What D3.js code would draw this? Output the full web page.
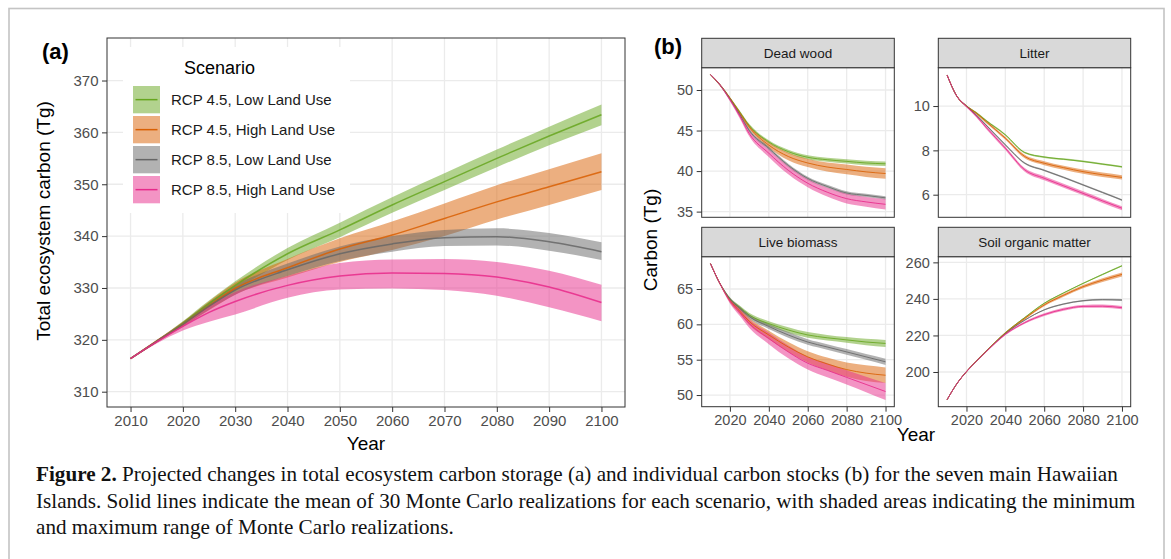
<!DOCTYPE html>
<html><head><meta charset="utf-8">
<script src="https://cdn.jsdelivr.net/npm/d3@7"></script>
<style>
body{margin:0;background:#fff}
svg{display:block}
text{font-family:"Liberation Sans",Arial,sans-serif}
</style>
</head><body>
<svg id="c" width="1171" height="559"></svg>
<script>
// ---------------- DATA ----------------
const years = [2010, 2015, 2020, 2025, 2030, 2040, 2050, 2060, 2070, 2080, 2090, 2100];
const scenarios = ["RCP 4.5, Low Land Use", "RCP 4.5, High Land Use", "RCP 8.5, Low Land Use", "RCP 8.5, High Land Use"];
const colors = ["#66A61E", "#D95F02", "#666666", "#E7298A"];

// Panel (a): total ecosystem carbon (Tg): mean, min, max
const total45Low      = [316.4, 319.7, 323.2, 327.0, 330.5, 336.6, 341.2, 346.0, 350.5, 355.0, 359.3, 363.4];
const total45LowMin   = [316.3, 319.5, 322.8, 326.3, 329.6, 335.4, 339.8, 344.5, 348.9, 353.3, 357.5, 361.4];
const total45LowMax   = [316.5, 319.9, 323.6, 327.6, 331.3, 337.7, 342.6, 347.5, 352.1, 356.7, 361.1, 365.4];
const total45High     = [316.4, 319.7, 323.0, 326.6, 329.9, 333.9, 337.5, 340.2, 343.4, 346.6, 349.5, 352.4];
const total45HighMin  = [316.3, 319.5, 322.5, 325.7, 328.7, 332.0, 335.0, 337.3, 340.0, 343.2, 346.0, 348.9];
const total45HighMax  = [316.5, 320.0, 323.5, 327.4, 331.0, 335.6, 339.6, 342.8, 346.3, 349.8, 352.9, 356.0];
const total85Low      = [316.4, 319.7, 323.0, 326.5, 329.6, 333.5, 336.6, 338.5, 339.7, 339.9, 338.9, 337.0];
const total85LowMin   = [316.3, 319.5, 322.6, 325.8, 328.7, 332.3, 335.2, 337.0, 338.1, 338.2, 337.2, 335.4];
const total85LowMax   = [316.5, 319.9, 323.4, 327.2, 330.5, 334.7, 338.0, 340.0, 341.2, 341.5, 340.6, 338.8];
const total85High     = [316.4, 319.6, 322.6, 325.3, 327.4, 330.5, 332.3, 332.9, 332.8, 332.1, 330.2, 327.2];
const total85HighMin  = [316.3, 319.3, 321.8, 323.5, 324.9, 328.1, 329.7, 329.9, 329.6, 328.5, 326.3, 323.6];
const total85HighMax  = [316.5, 319.9, 323.3, 326.6, 329.2, 332.3, 334.8, 335.5, 335.6, 335.0, 333.3, 330.6];

// Panel (b): individual stocks (Tg): mean and half-range of realizations
const deadWood45Low   = [51.9, 50.6, 49.0, 47.3, 45.6, 43.6, 42.4, 41.7, 41.4, 41.2, 41.0, 40.9];
const deadWood45High  = [51.9, 50.6, 49.0, 47.2, 45.4, 43.2, 41.8, 41.0, 40.5, 40.2, 39.9, 39.7];
const deadWood85Low   = [51.9, 50.6, 48.9, 47.0, 45.0, 42.8, 40.7, 39.1, 38.1, 37.3, 37.0, 36.7];
const deadWood85High  = [51.9, 50.6, 48.8, 46.8, 44.6, 42.2, 40.1, 38.5, 37.4, 36.6, 36.2, 35.9];
const deadWoodSpread45Low  = [0.05, 0.1, 0.15, 0.18, 0.2, 0.2, 0.22, 0.24, 0.25, 0.26, 0.27, 0.28];
const deadWoodSpread45High = [0.05, 0.1, 0.15, 0.2, 0.25, 0.35, 0.45, 0.5, 0.55, 0.6, 0.62, 0.65];
const deadWoodSpread85Low  = [0.05, 0.1, 0.15, 0.18, 0.2, 0.2, 0.2, 0.2, 0.2, 0.2, 0.2, 0.2];
const deadWoodSpread85High = [0.05, 0.1, 0.2, 0.28, 0.35, 0.45, 0.5, 0.5, 0.55, 0.6, 0.6, 0.65];

const litter45Low     = [11.4, 10.45, 10.0, 9.7, 9.35, 8.7, 7.9, 7.7, 7.6, 7.5, 7.38, 7.26];
const litter45High    = [11.4, 10.45, 10.0, 9.68, 9.3, 8.55, 7.72, 7.42, 7.22, 7.04, 6.9, 6.78];
const litter85Low     = [11.4, 10.45, 10.0, 9.6, 9.15, 8.25, 7.42, 7.1, 6.78, 6.44, 6.1, 5.76];
const litter85High    = [11.4, 10.45, 9.98, 9.55, 9.05, 8.1, 7.12, 6.74, 6.4, 6.06, 5.72, 5.39];
const litterSpread45Low  = [0.02, 0.03, 0.03, 0.04, 0.04, 0.04, 0.04, 0.04, 0.04, 0.04, 0.04, 0.04];
const litterSpread45High = [0.02, 0.03, 0.04, 0.05, 0.06, 0.07, 0.08, 0.09, 0.09, 0.1, 0.1, 0.1];
const litterSpread85Low  = [0.02, 0.03, 0.03, 0.04, 0.04, 0.04, 0.04, 0.04, 0.04, 0.04, 0.04, 0.04];
const litterSpread85High = [0.02, 0.03, 0.05, 0.06, 0.07, 0.08, 0.08, 0.09, 0.09, 0.09, 0.09, 0.09];

const live45Low       = [68.6, 65.7, 63.6, 62.4, 61.3, 60.1, 59.2, 58.5, 58.1, 57.8, 57.5, 57.3];
const live45High      = [68.6, 65.7, 63.4, 61.9, 60.4, 58.5, 56.8, 55.4, 54.4, 53.6, 53.1, 52.8];
const live85Low       = [68.6, 65.7, 63.6, 62.3, 61.1, 59.7, 58.5, 57.5, 56.8, 56.1, 55.4, 54.7];
const live85High      = [68.6, 65.7, 63.3, 61.7, 60.1, 58.0, 56.1, 54.5, 53.5, 52.5, 51.5, 50.5];
const liveSpread45Low  = [0.05, 0.1, 0.2, 0.25, 0.3, 0.35, 0.4, 0.4, 0.4, 0.4, 0.45, 0.5];
const liveSpread45High = [0.05, 0.15, 0.3, 0.4, 0.5, 0.6, 0.7, 0.8, 0.9, 1.0, 1.1, 1.1];
const liveSpread85Low  = [0.05, 0.1, 0.2, 0.25, 0.3, 0.35, 0.4, 0.4, 0.4, 0.4, 0.4, 0.45];
const liveSpread85High = [0.05, 0.15, 0.35, 0.5, 0.6, 0.8, 0.9, 0.9, 1.0, 1.0, 1.1, 1.2];

const soil45Low       = [184.8, 193.5, 200.2, 205.9, 211.2, 221.5, 229.8, 237.6, 243.3, 248.5, 253.4, 258.1];
const soil45High      = [184.8, 193.5, 200.2, 205.9, 211.2, 221.3, 229.3, 236.7, 242.0, 246.7, 250.3, 253.4];
const soil85Low       = [184.8, 193.5, 200.2, 205.8, 211.1, 221.0, 228.4, 234.0, 237.2, 239.0, 239.6, 239.4];
const soil85High      = [184.8, 193.5, 200.2, 205.8, 211.0, 220.6, 227.0, 231.4, 234.3, 235.9, 236.0, 235.2];
const soilSpread45Low  = [0.1, 0.1, 0.2, 0.2, 0.2, 0.2, 0.3, 0.3, 0.3, 0.3, 0.4, 0.4];
const soilSpread45High = [0.1, 0.2, 0.3, 0.35, 0.4, 0.5, 0.6, 0.7, 0.8, 0.9, 1.0, 1.1];
const soilSpread85Low  = [0.1, 0.2, 0.2, 0.25, 0.3, 0.3, 0.3, 0.4, 0.4, 0.4, 0.5, 0.5];
const soilSpread85High = [0.1, 0.2, 0.3, 0.35, 0.4, 0.5, 0.6, 0.7, 0.8, 0.8, 0.9, 0.9];

// Tick labels / axis limits
const xTicksA = [2010, 2020, 2030, 2040, 2050, 2060, 2070, 2080, 2090, 2100];
const yTicksA = [310, 320, 330, 340, 350, 360, 370];
const xTicksB = [2020, 2040, 2060, 2080, 2100];
const facetNames = ["Dead wood", "Litter", "Live biomass", "Soil organic matter"];
const yTicksDead = [35, 40, 45, 50];
const yTicksLitter = [6, 8, 10];
const yTicksLive = [50, 55, 60, 65];
const yTicksSoil = [200, 220, 240, 260];
const xLimits = [2005.5, 2104.5];
const yLimitsA = [307.05, 378.2];
const yLimitsDead = [34.3, 52.75];
const yLimitsLitter = [4.98, 11.73];
const yLimitsLive = [48.35, 69.57];
const yLimitsSoil = [181.0, 263.1];

const captionLines = [
  ["Figure 2.", " Projected changes in total ecosystem carbon storage (a) and individual carbon stocks (b) for the seven main Hawaiian"],
  ["", "Islands. Solid lines indicate the mean of 30 Monte Carlo realizations for each scenario, with shaded areas indicating the minimum"],
  ["", "and maximum range of Monte Carlo realizations."]
];

// ---------------- DRAW ----------------
const svg = d3.select("#c");
svg.append("rect").attr("width", 1171).attr("height", 559).attr("fill", "#fff");
svg.append("rect").attr("x", 9).attr("y", 8.5).attr("width", 1155).attr("height", 620)
  .attr("fill", "none").attr("stroke", "#c4c4c4").attr("stroke-width", 1.6);

const GRID = "#EBEBEB", DARK = "#333333", TICKTXT = "#4D4D4D";

function drawPanel(g, box, yDomain, xTicks, yTicks, showX, series, lineW, tickFont) {
  const x = d3.scaleLinear().domain(xLimits).range([box.x0, box.x1]);
  const y = d3.scaleLinear().domain(yDomain).range([box.y1, box.y0]);
  g.append("rect").attr("x", box.x0).attr("y", box.y0).attr("width", box.x1 - box.x0).attr("height", box.y1 - box.y0).attr("fill", "#fff");
  const grid = g.append("g");
  grid.selectAll(".gx").data(xTicks).join("line")
    .attr("x1", d => x(d)).attr("x2", d => x(d)).attr("y1", box.y0).attr("y2", box.y1)
    .attr("stroke", GRID).attr("stroke-width", 1.3);
  grid.selectAll(".gy").data(yTicks).join("line")
    .attr("y1", d => y(d)).attr("y2", d => y(d)).attr("x1", box.x0).attr("x2", box.x1)
    .attr("stroke", GRID).attr("stroke-width", 1.3);
  if (box.legendMask) {
    const m = box.legendMask;
    g.append("rect").attr("x", m.x).attr("y", m.y).attr("width", m.w).attr("height", m.h).attr("fill", "#fff");
  }
  const area = d3.area().x((d, i) => x(years[i])).y0(d => y(d[0])).y1(d => y(d[1])).curve(d3.curveMonotoneX);
  const line = d3.line().x((d, i) => x(years[i])).y(d => y(d)).curve(d3.curveMonotoneX);
  series.forEach((s, k) => {
    const band = s.lo.map((v, i) => [v, s.hi[i]]);
    g.append("path").attr("d", area(band)).attr("fill", colors[k]).attr("fill-opacity", 0.5);
  });
  series.forEach((s, k) => {
    g.append("path").attr("d", line(s.mean)).attr("fill", "none").attr("stroke", colors[k])
      .attr("stroke-width", lineW).attr("stroke-opacity", 0.85);
  });
  g.append("rect").attr("x", box.x0).attr("y", box.y0).attr("width", box.x1 - box.x0).attr("height", box.y1 - box.y0)
    .attr("fill", "none").attr("stroke", DARK).attr("stroke-width", 1);
  const ya = g.append("g").attr("transform", `translate(${box.x0},0)`)
    .call(d3.axisLeft(y).tickValues(yTicks).tickSize(5).tickPadding(3.5).tickFormat(d3.format("d")));
  ya.select(".domain").remove();
  ya.selectAll(".tick line").attr("stroke", DARK);
  ya.selectAll(".tick text").attr("fill", TICKTXT).style("font-size", tickFont + "px").style("font-family", "Liberation Sans, Arial, sans-serif");
  if (showX) {
    const xa = g.append("g").attr("transform", `translate(0,${box.y1})`)
      .call(d3.axisBottom(x).tickValues(xTicks).tickSize(5).tickPadding(3).tickFormat(d3.format("d")));
    xa.select(".domain").remove();
    xa.selectAll(".tick line").attr("stroke", DARK);
    xa.selectAll(".tick text").attr("fill", TICKTXT).style("font-size", tickFont + "px").style("font-family", "Liberation Sans, Arial, sans-serif");
  }
}

// Panel (a)
const seriesA = [
  {mean: total45Low, lo: total45LowMin, hi: total45LowMax},
  {mean: total45High, lo: total45HighMin, hi: total45HighMax},
  {mean: total85Low, lo: total85LowMin, hi: total85LowMax},
  {mean: total85High, lo: total85HighMin, hi: total85HighMax}
];
const gA = svg.append("g");
drawPanel(gA, {x0: 107, x1: 625, y0: 38, y1: 407, legendMask: {x: 123, y: 47, w: 227, h: 166}},
  yLimitsA, xTicksA, yTicksA, true, seriesA, 1.5, 15);

const leg = gA.append("g");
leg.append("text").attr("x", 184).attr("y", 74).text("Scenario").style("font-size", "18px").attr("fill", "#000");
scenarios.forEach((name, k) => {
  const ky = 86 + k * 30;
  leg.append("rect").attr("x", 133).attr("y", ky).attr("width", 27).attr("height", 27.3)
    .attr("fill", colors[k]).attr("fill-opacity", 0.5);
  leg.append("line").attr("x1", 135.5).attr("x2", 157.5).attr("y1", ky + 13.65).attr("y2", ky + 13.65)
    .attr("stroke", colors[k]).attr("stroke-width", 1.5);
  leg.append("text").attr("x", 171).attr("y", ky + 13.65).attr("dy", "0.36em").text(name)
    .style("font-size", "15px").attr("fill", "#1A1A1A");
});
gA.append("text").attr("x", 366).attr("y", 450).attr("text-anchor", "middle").text("Year")
  .style("font-size", "19px").attr("fill", "#000");
gA.append("text").attr("transform", "translate(50,221) rotate(-90)").attr("text-anchor", "middle")
  .text("Total ecosystem carbon (Tg)").style("font-size", "19px").attr("fill", "#000");
svg.append("text").attr("x", 42).attr("y", 59).text("(a)").style("font-size", "22px").style("font-weight", "bold").attr("fill", "#000");

// Panel (b)
function mk(mean, spread) {
  return {mean: mean, lo: mean.map((v, i) => v - spread[i]), hi: mean.map((v, i) => v + spread[i])};
}
const facetSeries = [
  [mk(deadWood45Low, deadWoodSpread45Low), mk(deadWood45High, deadWoodSpread45High), mk(deadWood85Low, deadWoodSpread85Low), mk(deadWood85High, deadWoodSpread85High)],
  [mk(litter45Low, litterSpread45Low), mk(litter45High, litterSpread45High), mk(litter85Low, litterSpread85Low), mk(litter85High, litterSpread85High)],
  [mk(live45Low, liveSpread45Low), mk(live45High, liveSpread45High), mk(live85Low, liveSpread85Low), mk(live85High, liveSpread85High)],
  [mk(soil45Low, soilSpread45Low), mk(soil45High, soilSpread45High), mk(soil85Low, soilSpread85Low), mk(soil85High, soilSpread85High)]
];
const facetY = [yLimitsDead, yLimitsLitter, yLimitsLive, yLimitsSoil];
const facetTicks = [yTicksDead, yTicksLitter, yTicksLive, yTicksSoil];
const cols = [[701.7, 894.3], [938.3, 1130.7]];
const rows = [{s0: 38.3, p0: 67.7, p1: 217.3}, {s0: 227.3, p0: 256.7, p1: 406.7}];
const gB = svg.append("g");
facetNames.forEach((name, f) => {
  const c = cols[f % 2], r = rows[Math.floor(f / 2)];
  const g = gB.append("g");
  drawPanel(g, {x0: c[0], x1: c[1], y0: r.p0, y1: r.p1}, facetY[f], xTicksB, facetTicks[f], f >= 2, facetSeries[f], 1.0, 14.5);
  g.append("rect").attr("x", c[0]).attr("y", r.s0).attr("width", c[1] - c[0]).attr("height", r.p0 - r.s0)
    .attr("fill", "#D9D9D9").attr("stroke", DARK).attr("stroke-width", 1);
  g.append("text").attr("x", (c[0] + c[1]) / 2).attr("y", (r.s0 + r.p0) / 2).attr("dy", "0.36em")
    .attr("text-anchor", "middle").text(name).style("font-size", "13.5px").attr("fill", "#1A1A1A");
});
gB.append("text").attr("x", 916).attr("y", 441).attr("text-anchor", "middle").text("Year")
  .style("font-size", "19px").attr("fill", "#000");
gB.append("text").attr("transform", "translate(657,240) rotate(-90)").attr("text-anchor", "middle")
  .text("Carbon (Tg)").style("font-size", "19px").attr("fill", "#000");
svg.append("text").attr("x", 654).attr("y", 54).text("(b)").style("font-size", "22px").style("font-weight", "bold").attr("fill", "#000");

// Caption
const cap = svg.append("g");
const capTexts = captionLines.map((parts, i) => {
  const t = cap.append("text").attr("x", 36).attr("y", 481 + i * 26.5).attr("fill", "#111")
    .style("font-family", "Liberation Serif, Times New Roman, serif").style("font-size", "18px");
  if (parts[0]) t.append("tspan").style("font-weight", "bold").text(parts[0]);
  t.append("tspan").text(parts[1]);
  return t;
});
const w0 = capTexts[0].node().getComputedTextLength();
const fs = 18 * 1082 / w0;
capTexts.forEach(t => t.style("font-size", fs.toFixed(2) + "px"));
</script>
</body></html>
